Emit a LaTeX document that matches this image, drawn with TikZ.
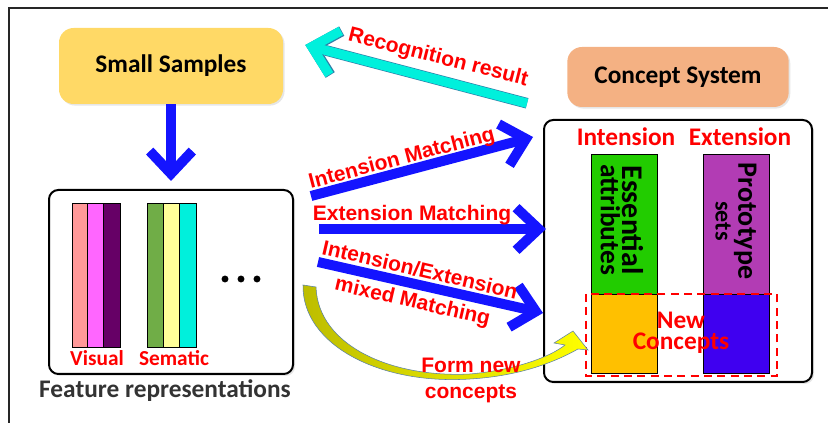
\documentclass[tikz,border=0pt]{standalone}
\usepackage{fontspec}
\setmainfont{Carlito}
\newfontfamily\arialfont{Liberation Sans}
\usetikzlibrary{arrows.meta,shadows}
\definecolor{samplefill}{HTML}{FFD966}
\definecolor{conceptfill}{HTML}{F4B183}
\definecolor{arrowblue}{HTML}{1414FF}
\definecolor{reccyan}{HTML}{00F0DC}
\definecolor{recedge}{HTML}{2E7FA8}
\definecolor{visA}{HTML}{FF9999}
\definecolor{visB}{HTML}{FF66FF}
\definecolor{visC}{HTML}{660066}
\definecolor{semA}{HTML}{70AD47}
\definecolor{semB}{HTML}{FFFF99}
\definecolor{semC}{HTML}{00F0DC}
\definecolor{intgreen}{HTML}{22CC00}
\definecolor{extpurple}{HTML}{B23CB4}
\definecolor{neworange}{HTML}{FFC000}
\definecolor{newblue}{HTML}{3F00F0}
\definecolor{olivey}{HTML}{BDBD00}
\definecolor{brighty}{HTML}{FFFF00}
\definecolor{yedge}{HTML}{5A7FA8}
\definecolor{darktext}{HTML}{333333}
\tikzset{
    topbox/.style={fill=#1,rounded corners=11pt,minimum width=168pt,minimum height=57pt,
        font=\bfseries\fontsize{19}{22}\selectfont,
        drop shadow={opacity=0.2,shadow xshift=1.2pt,shadow yshift=-1.2pt}},
    panel/.style={draw=black,line width=1.5pt,rounded corners=7pt,fill=white,
        drop shadow={opacity=0.2,shadow xshift=1.5pt,shadow yshift=-1.5pt}},
    bar/.style={draw=black,line width=0.5pt,fill=#1},
    matcharrow/.style={draw=arrowblue,line width=7.5pt,
        -{Straight Barb[length=17pt,width=32pt,line width=7.5pt,sharp]}},
    redlabel/.style={text=red,font=\arialfont\bfseries\fontsize{15.75}{19}\selectfont},
    headlabel/.style={text=red,font=\bfseries\fontsize{19}{22}\selectfont}
}

\begin{document}
\begin{tikzpicture}[
    x=0.75pt,y=-0.75pt,
    recarrow/.style={draw=reccyan,line width=7pt,
        -{Straight Barb[length=18pt,width=34pt,line width=7pt,sharp]},
        preaction={draw=recedge,line width=8pt,
        -{Straight Barb[length=18pt,width=34pt,line width=8pt,sharp]}}}
]
\useasboundingbox (0,0) rectangle (828,423);

% frame
\draw[line width=1.5pt,draw=black!85] (9,423) -- (9,8) -- (828,8);

% the two top boxes
\node[topbox=samplefill] (samples) at (171,66) {Small Samples};
\node[topbox=conceptfill,minimum width=166pt,minimum height=45pt] (concept) at (678,77) {Concept System};

% feature box and concept box
\node[panel,minimum width=183pt,minimum height=138pt] (feature) at (171,282) {};
\node[panel,minimum width=201pt,minimum height=196.5pt] (outer) at (678,251) {};

% feature bars
\draw[bar=visA] (72,203) rectangle (87,347);
\draw[bar=visB] (87,203) rectangle (103,347);
\draw[bar=visC] (103,203) rectangle (120,347);
\draw[bar=semA] (147,203) rectangle (163,347);
\draw[bar=semB] (163,203) rectangle (179,347);
\draw[bar=semC] (179,203) rectangle (196,347);
\fill (225,279) circle (2.6pt) (241,279) circle (2.6pt) (257,279) circle (2.6pt);
\node[headlabel,font=\bfseries\fontsize{16}{19}\selectfont] (visual) at (97,358) {Visual};
\node[headlabel,font=\bfseries\fontsize{16}{19}\selectfont] (sematic) at (174,358) {Sematic};
\node[text=darktext,font=\bfseries\fontsize{19}{22}\selectfont] (featlabel) at (165,391) {Feature representations};

% concept bars
\draw[bar=intgreen] (591,154) rectangle (657,294);
\draw[bar=extpurple] (703,154) rectangle (769,294);
\draw[bar=neworange] (591,294) rectangle (657,373);
\draw[bar=newblue] (703,294) rectangle (769,373);
\node[headlabel] (intension) at (626,137) {Intension};
\node[headlabel] (extension) at (740,137) {Extension};
\node[rotate=-90,align=center,font=\bfseries\fontsize{20}{16}\selectfont] (essential) at (622,220)
    {{\fontsize{22.5}{16}\selectfont Essential}\\{\fontsize{20.5}{16}\selectfont attributes}};
\node[rotate=-90,align=center,font=\bfseries\fontsize{18}{17}\selectfont] (prototype) at (736,221)
    {{\fontsize{21}{17}\selectfont Prototype}\\{\fontsize{18}{17}\selectfont sets}};
\draw[red,line width=1.5pt,dash pattern=on 6pt off 4pt] (586,294) rectangle (777,376);
\node[headlabel,align=center,font=\bfseries\fontsize{19}{16}\selectfont] (newconcepts) at (681,333) {New\\Concepts};

% arrows
\draw[matcharrow,shorten >=6pt] (samples) -- (feature);
\draw[recarrow] ([shift={(-40,-4)}]concept.south west) -- ([shift={(22,-21)}]samples.east);
\draw[matcharrow] ([shift={(17,7)}]feature.north east) -- ([shift={(-10,18)}]outer.north west);
\draw[matcharrow] ([shift={(25,40)}]feature.north east) -- ([shift={(3,110)}]outer.north west);
\draw[matcharrow] ([shift={(24,-20)}]feature.east) -- ([shift={(0,62)}]outer.west);
\shadedraw[left color=olivey,right color=brighty,draw=yedge,line width=0.4pt]
    (303,285) .. controls (302,345) and (380,385) .. (470,379)
    .. controls (520,376) and (555,362) .. (578,349) -- (588,350) -- (573,331) -- (554,343) -- (565,345)
    .. controls (550,357) and (515,370) .. (470,374)
    .. controls (390,378) and (318,345) .. (316,287) -- cycle;

% arrow labels
\node[redlabel,rotate=-14.2] (reclabel) at (438,58) {Recognition result};
\node[redlabel,rotate=14.75] (intlabel) at (402,159) {Intension Matching};
\node[redlabel] (extlabel) at (412,215) {Extension Matching};
\node[redlabel,rotate=-13,align=center,font=\arialfont\bfseries\fontsize{15.75}{24}\selectfont] (mixlabel) at (416,287)
    {Intension/Extension\\mixed Matching};
\node[redlabel,align=center,font=\arialfont\bfseries\fontsize{15.75}{19.5}\selectfont] (formlabel) at (471,380)
    {Form new\\concepts};
\end{tikzpicture}
\end{document}
